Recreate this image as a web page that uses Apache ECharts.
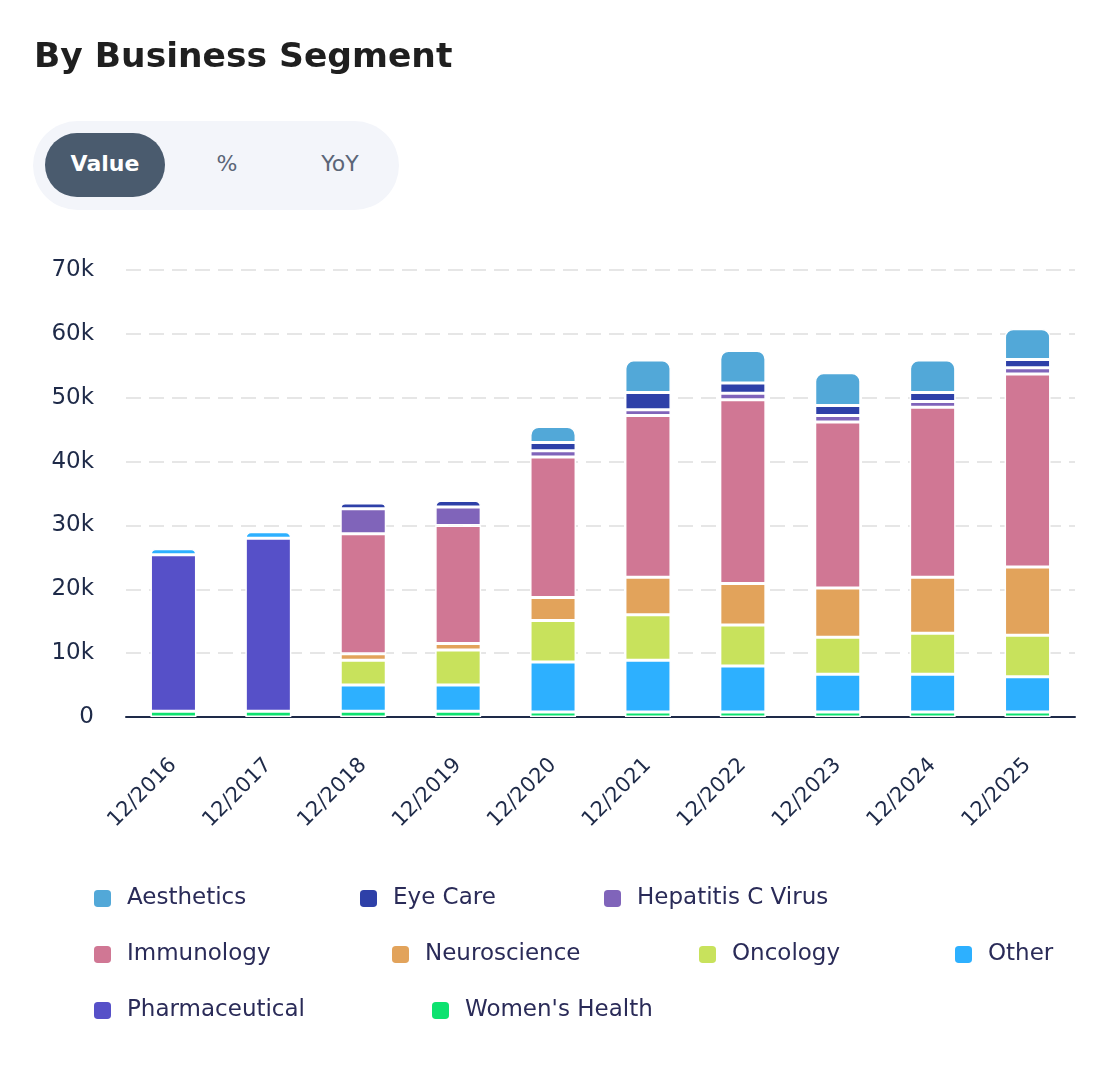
<!DOCTYPE html>
<html>
<head>
<meta charset="utf-8">
<script src="https://cdn.jsdelivr.net/npm/echarts@6/dist/echarts.min.js"></script>
<style>
  body { margin: 0; background: #fff; font-family: "DejaVu Sans", sans-serif; }
  #wrap { position: relative; width: 1103px; height: 1079px; overflow: hidden; }
  #chart { position: absolute; left: 0; top: 0; width: 1103px; height: 1079px; }
  .title { position: absolute; left: 34px; top: 35px; font-size: 34.5px; line-height: 40px; font-weight: bold; color: #1f1f1f; white-space: nowrap; z-index: 2; }
  .toggle { position: absolute; left: 33px; top: 121px; width: 366px; height: 89px; border-radius: 45px; background: #f3f5fa; z-index: 2; }
  .toggle span { position: absolute; top: 12px; height: 64px; line-height: 62px; font-size: 22px; color: #5b6577; text-align: center; }
  .toggle .on { left: 12px; width: 120px; border-radius: 32px; background: #4a5b6e; color: #fff; font-weight: bold; }
</style>
</head>
<body>
<div id="wrap">
  <div id="chart"></div>
  <div class="title">By Business Segment</div>
  <div class="toggle">
    <span class="on">Value</span>
    <span style="left:154px;width:80px">%</span>
    <span style="left:267px;width:80px">YoY</span>
  </div>
</div>
<script>
// values in $ millions
var years = ['12/2016', '12/2017', '12/2018', '12/2019', '12/2020', '12/2021', '12/2022', '12/2023', '12/2024', '12/2025'];
var womensHealth = [900, 900, 900, 900, 800, 800, 800, 800, 800, 800];
var pharmaceutical = [24500, 27100, null, null, null, null, null, null, null, null];
var other = [950, 1000, 4100, 4100, 7800, 8100, 7200, 5900, 5900, 5500];
var oncology = [null, null, 3900, 5500, 6500, 7100, 6400, 5800, 6400, 6500];
var neuroscience = [null, null, 1000, 1000, 3600, 5900, 6500, 7700, 8800, 10700];
var immunology = [null, null, 18800, 18500, 22000, 25300, 28800, 26000, 26600, 30200];
var hepatitisC = [null, null, 3900, 2900, 1000, 900, 1000, 1000, 900, 1000];
var eyeCare = [null, null, 900, 1000, 1300, 2700, 1600, 1600, 1400, 1300];
var aesthetics = [null, null, null, null, 2500, 5100, 5100, 5100, 5100, 4800];
var yTicks = [0, 10000, 20000, 30000, 40000, 50000, 60000, 70000];

// stack order bottom -> top
var segments = [
  { name: "Women's Health", data: womensHealth, color: '#0de26f' },
  { name: 'Pharmaceutical', data: pharmaceutical, color: '#5650c8' },
  { name: 'Other', data: other, color: '#2db0ff' },
  { name: 'Oncology', data: oncology, color: '#c8e25c' },
  { name: 'Neuroscience', data: neuroscience, color: '#e2a35b' },
  { name: 'Immunology', data: immunology, color: '#d07794' },
  { name: 'Hepatitis C Virus', data: hepatitisC, color: '#8064ba' },
  { name: 'Eye Care', data: eyeCare, color: '#2e40a8' },
  { name: 'Aesthetics', data: aesthetics, color: '#52a8d8' }
];

var legendRows = [
  { names: ['Aesthetics', 'Eye Care', 'Hepatitis C Virus'], lefts: [92, 358, 602], top: 887 },
  { names: ['Immunology', 'Neuroscience', 'Oncology', 'Other'], lefts: [92, 390, 697, 953], top: 943 },
  { names: ['Pharmaceutical', "Women's Health"], lefts: [92, 430], top: 999 }
];

var font = '"DejaVu Sans", sans-serif';
var navy = '#1e2a48';

// the segment on top of each bar gets the rounded corners
var topIndex = years.map(function (y, i) {
  for (var s = segments.length - 1; s >= 0; s--) {
    if (segments[s].data[i]) return s;
  }
  return -1;
});

var series = segments.map(function (seg, s) {
  return {
    name: seg.name,
    type: 'bar',
    stack: 'total',
    barWidth: 46,
    itemStyle: { color: seg.color, borderColor: '#fff', borderWidth: 1.5 },
    data: seg.data.map(function (v, i) {
      if (topIndex[i] === s) return { value: v, itemStyle: { borderRadius: [8, 8, 0, 0] } };
      return v;
    })
  };
});

var legends = [];
legendRows.forEach(function (row) {
  row.names.forEach(function (n, k) {
    legends.push({
      data: [n],
      left: row.lefts[k],
      top: row.top,
      padding: 0,
      icon: 'roundRect',
      itemWidth: 19,
      itemHeight: 19,
      textStyle: { fontSize: 23, color: '#2a2b58', fontFamily: font, padding: [0, 0, 0, 10] }
    });
  });
});

var myChart = echarts.init(document.getElementById('chart'));
var option = {
  animation: false,
  textStyle: { fontFamily: font },
  grid: { left: 126, right: 28, top: 270, bottom: 362, containLabel: false },
  legend: legends,
  xAxis: {
    type: 'category',
    data: years,
    axisLine: { lineStyle: { color: navy, width: 2 } },
    axisTick: { alignWithLabel: true, length: 19, lineStyle: { color: navy, width: 2 } },
    axisLabel: { rotate: 45, margin: 45, fontSize: 21, color: navy, fontFamily: font }
  },
  yAxis: {
    type: 'value',
    min: yTicks[0],
    max: yTicks[yTicks.length - 1],
    interval: yTicks[1] - yTicks[0],
    axisLine: { show: false },
    axisTick: { show: false },
    axisLabel: {
      margin: 32, fontSize: 23, color: navy, fontFamily: font,
      formatter: function (v) { return v === 0 ? '0' : (v / 1000) + 'k'; }
    },
    splitLine: { lineStyle: { type: [15, 8], color: '#e6e6e6', width: 2 } }
  },
  series: series
};
option && myChart.setOption(option);
</script>
</body>
</html>
